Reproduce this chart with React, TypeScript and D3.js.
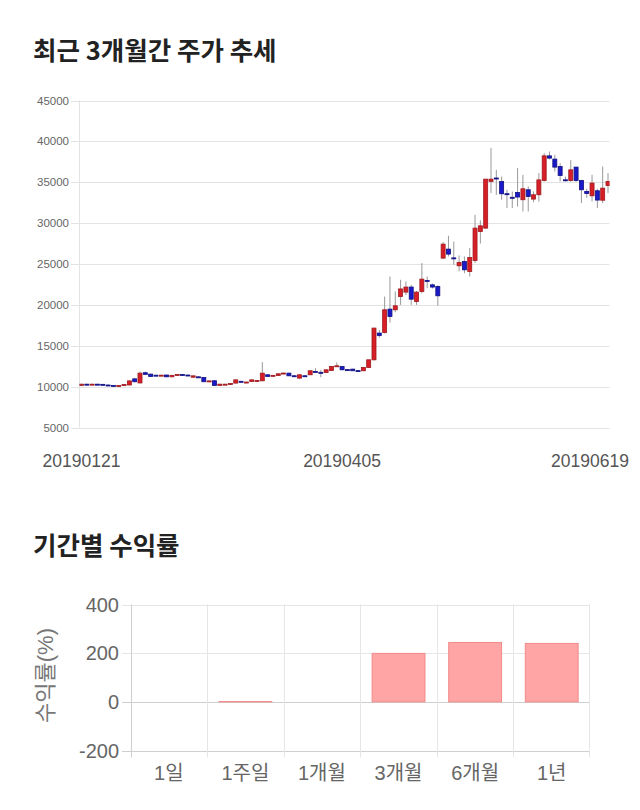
import React from "react";
import * as d3 from "d3";

const opens = [10150,10300,10250,10300,10280,10200,10150,10100,10150,10200,10950,10450,11700,11530,11400,11380,11420,11200,11400,11480,11420,11150,11200,11120,10700,10720,10150,10300,10350,10430,10650,10550,10630,10750,10710,11450,11370,11360,11650,11650,11330,11040,11330,11450,11860,11750,11730,11970,12500,12460,12080,12140,11960,11940,12340,13280,16550,16620,19480,19400,21020,21560,22180,20410,21630,22980,22450,22250,25720,26820,25750,24780,25310,24080,25430,28980,29390,35090,35520,35080,33600,33160,33750,32860,34080,32940,33470,35210,38230,37830,36930,35300,35210,36850,35210,33880,33340,33960,32800,34600];
const highs = [10350,10350,10350,10350,10300,10250,10200,10200,10300,10750,11050,11850,11850,11600,11450,11450,11450,11420,11520,11520,11450,11350,11250,11150,10750,10750,10350,10350,10420,10850,10700,10600,10850,10800,13000,11500,11420,11600,11700,11700,11380,11500,11400,12000,12250,12050,12100,12500,12950,12500,12150,12200,12000,12400,13300,17200,16930,21020,23470,21640,23070,22860,22450,21700,25110,23470,22600,22400,27700,28450,27750,26050,25920,26950,31020,30340,35380,39180,36520,35700,34080,33870,36730,35910,34480,33880,36120,38560,38760,38360,37340,35700,37700,36900,35300,34200,35910,34200,36930,36120];
const lows = [10100,10150,10200,10250,10150,10100,10050,10050,10100,10150,10500,10400,11450,11200,11300,11300,11150,11150,11380,11400,11300,11100,11050,10550,10650,10100,10100,10250,10300,10400,10600,10500,10600,10700,10650,11200,11320,11330,11600,11300,11250,10950,11280,11400,11750,11150,11700,11900,12400,12000,11950,11900,11850,11900,12300,13200,15980,16500,17840,19100,20000,21200,20000,20000,21400,22050,22000,19890,25600,25920,24900,24100,23880,23470,25100,27500,29300,33670,33470,32860,31840,31840,32030,31420,31420,32560,32650,35090,37800,36320,35090,35100,35050,35050,32450,33100,32650,31840,32450,33670];
const closes = [10300,10250,10300,10280,10220,10150,10100,10130,10250,10700,10600,11650,11500,11250,11380,11400,11200,11380,11480,11450,11380,11320,11150,10600,10700,10150,10300,10300,10380,10830,10630,10560,10830,10760,11650,11250,11380,11570,11660,11320,11300,11450,11320,11940,11840,11730,12060,12460,12550,12060,12060,11940,11940,12340,13280,17160,16250,19400,18580,19890,21950,22180,20700,21560,23150,22950,22180,21110,27430,26210,25720,25190,24290,25800,29390,29670,35380,35380,35480,33590,33550,33130,33190,34200,33260,33470,35290,38230,37950,36850,35830,35260,36520,35210,34080,33620,34900,32820,34280,35090];

const priceTicks = [5000, 10000, 15000, 20000, 25000, 30000, 35000, 40000, 45000];
const dateLabels = ["20190121", "20190405", "20190619"];
const dateLabelIndex = [0, 49, 99];

const periods = ["1일", "1주일", "1개월", "3개월", "6개월", "1년"];
const returns = [0, 1.2, 0, 199, 244, 240];
const returnTicks = [-200, 0, 200, 400];

const KR = "'Noto Sans CJK KR', 'Noto Sans', sans-serif";
const NUM = "'Liberation Sans', Arial, 'Noto Sans CJK KR', sans-serif";

export default function App() {
  const n = closes.length;
  const x = d3.scaleLinear().domain([0, n - 1]).range([81.5, 608]);
  const y = d3.scaleLinear().domain([5000, 45000]).range([427.5, 100.5]);
  const plotLeft = 79.5;
  const plotRight = 609.5;

  const bx = d3.scaleBand<string>().domain(periods).range([130.5, 590]).paddingInner(0.31).paddingOuter(0.155);
  const cat = d3.scaleBand<string>().domain(periods).range([130.5, 590]);
  const by = d3.scaleLinear().domain([-200, 400]).range([750.5, 604.5]);

  return (
    <svg width={640} height={810} style={{ position: "absolute", left: 0, top: 0, background: "#fff" }}>
      <defs>
        <clipPath id="plotclip">
          <rect x={plotLeft} y={90} width={plotRight - plotLeft} height={345} />
        </clipPath>
      </defs>
      <text x={33} y={60} fontFamily={KR} fontWeight={700} fontSize={25.5} fill="#222">최근 3개월간 주가 추세</text>

      {priceTicks.map((t) => (
        <g key={t}>
          <line x1={71} x2={plotRight} y1={Math.round(y(t)) + 0.5} y2={Math.round(y(t)) + 0.5} stroke="#e3e3e3" strokeWidth={1} />
          <text x={69} y={y(t) + 4} textAnchor="end" fontFamily={NUM} fontSize={11.5} fill="#666">{t}</text>
        </g>
      ))}
      <line x1={plotLeft} x2={plotLeft} y1={y(45000)} y2={y(5000)} stroke="#e3e3e3" strokeWidth={1} />

      <g clipPath="url(#plotclip)">
        {closes.map((c, i) => {
          const o = opens[i];
          const up = c >= o;
          const cx = x(i);
          const top = y(Math.max(o, c));
          const h = Math.max(1, Math.abs(y(o) - y(c)));
          return (
            <g key={i}>
              <line x1={cx} x2={cx} y1={y(highs[i])} y2={y(lows[i])} stroke="#999" strokeWidth={1} />
              <rect x={cx - 2} y={top} width={4} height={h}
                fill={up ? "#d81e26" : "#1a1acb"} stroke={up ? "#9c1a1f" : "#101080"} strokeWidth={0.8} />
            </g>
          );
        })}
      </g>

      {dateLabels.map((d, k) => {
        const half = 40;
        const cx = Math.max(half, Math.min(640 - 10 - half, x(dateLabelIndex[k])));
        return (
          <text key={d} x={cx} y={467} textAnchor="middle" fontFamily={NUM} fontSize={17.5} fill="#555">{d}</text>
        );
      })}

      <text x={33} y={555} fontFamily={KR} fontWeight={700} fontSize={25.5} fill="#222">기간별 수익률</text>

      {returnTicks.map((t) => (
        <g key={t}>
          <line x1={122} x2={590} y1={Math.round(by(t)) + 0.5} y2={Math.round(by(t)) + 0.5}
            stroke={t === 0 || t === -200 ? "#cfcfcf" : "#e6e6e6"} strokeWidth={1} />
          <text x={119} y={by(t) + 7} textAnchor="end" fontFamily={NUM} fontSize={20} fill="#666">{t}</text>
        </g>
      ))}
      {periods.map((p) => (
        <line key={"v" + p} x1={Math.round(cat(p)!) + 0.5} x2={Math.round(cat(p)!) + 0.5} y1={by(400)} y2={by(-200) + 7}
          stroke={p === periods[0] ? "#cfcfcf" : "#e6e6e6"} strokeWidth={1} />
      ))}
      <line x1={589.5} x2={589.5} y1={by(400)} y2={by(-200) + 7} stroke="#e6e6e6" strokeWidth={1} />

      {periods.map((p, i) => {
        const v = returns[i];
        if (v === 0) return null;
        const y0 = by(0);
        const y1 = by(v);
        return (
          <rect key={"b" + p} x={bx(p)} y={Math.min(y0, y1)} width={bx.bandwidth()} height={Math.abs(y1 - y0)}
            fill="#ffa5a5" stroke="#f28b8b" strokeWidth={1} />
        );
      })}
      {periods.map((p) => (
        <text key={"l" + p} x={cat(p)! + cat.bandwidth() / 2} y={780} textAnchor="middle" fontFamily={NUM} fontSize={20} fill="#666">{p}</text>
      ))}
      <text transform={`translate(53, ${by(100) - 2}) rotate(-90)`} textAnchor="middle" fontFamily={NUM} fontSize={22} fill="#777">수익률(%)</text>
    </svg>
  );
}
